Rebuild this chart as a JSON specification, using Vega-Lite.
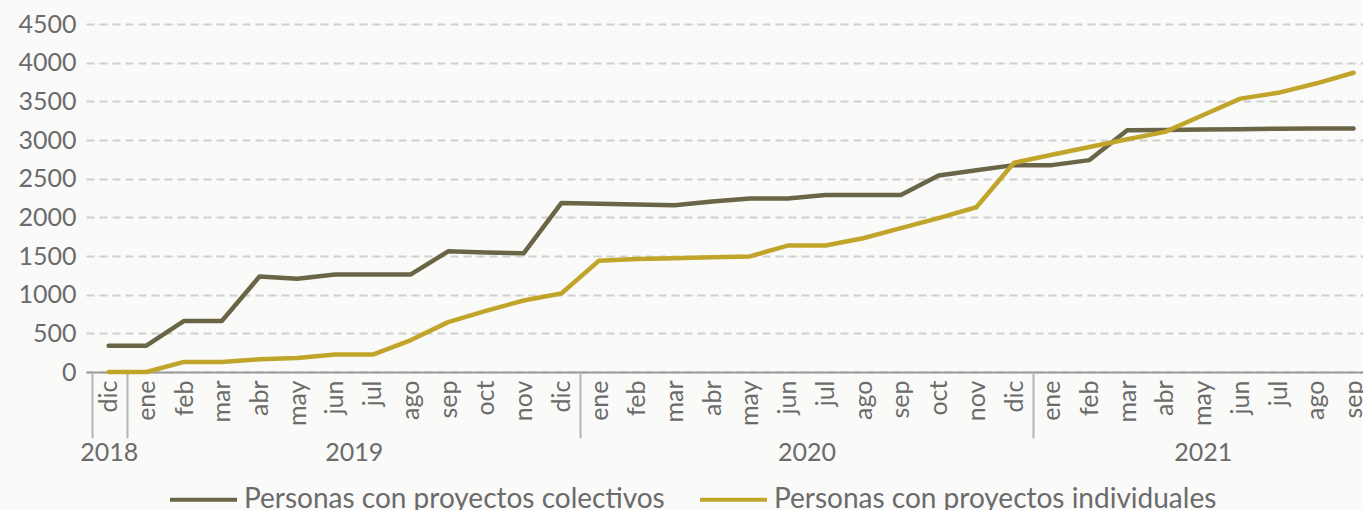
{
  "$schema": "https://vega.github.io/schema/vega-lite/v6.json",
  "width": 1277,
  "height": 348,
  "autosize": {"type": "none"},
  "padding": {"left": 86, "top": 24, "right": 0, "bottom": 138},
  "background": "#fafaf8",
  "config": {
    "view": {"stroke": null},
    "font": "Lato",
    "axis": {"labelFont": "Lato", "labelColor": "#6b6b6b"},
    "legend": {"labelFont": "Lato"}
  },
  "data": {
    "values": [
      {"i": 0, "serie": "Personas con proyectos colectivos", "valor": 340},
      {"i": 1, "serie": "Personas con proyectos colectivos", "valor": 340},
      {"i": 2, "serie": "Personas con proyectos colectivos", "valor": 660},
      {"i": 3, "serie": "Personas con proyectos colectivos", "valor": 660},
      {"i": 4, "serie": "Personas con proyectos colectivos", "valor": 1235},
      {"i": 5, "serie": "Personas con proyectos colectivos", "valor": 1205},
      {"i": 6, "serie": "Personas con proyectos colectivos", "valor": 1260},
      {"i": 7, "serie": "Personas con proyectos colectivos", "valor": 1260},
      {"i": 8, "serie": "Personas con proyectos colectivos", "valor": 1260},
      {"i": 9, "serie": "Personas con proyectos colectivos", "valor": 1560},
      {"i": 10, "serie": "Personas con proyectos colectivos", "valor": 1545},
      {"i": 11, "serie": "Personas con proyectos colectivos", "valor": 1535},
      {"i": 12, "serie": "Personas con proyectos colectivos", "valor": 2185},
      {"i": 13, "serie": "Personas con proyectos colectivos", "valor": 2175},
      {"i": 14, "serie": "Personas con proyectos colectivos", "valor": 2165},
      {"i": 15, "serie": "Personas con proyectos colectivos", "valor": 2155},
      {"i": 16, "serie": "Personas con proyectos colectivos", "valor": 2205},
      {"i": 17, "serie": "Personas con proyectos colectivos", "valor": 2245},
      {"i": 18, "serie": "Personas con proyectos colectivos", "valor": 2245},
      {"i": 19, "serie": "Personas con proyectos colectivos", "valor": 2290},
      {"i": 20, "serie": "Personas con proyectos colectivos", "valor": 2290},
      {"i": 21, "serie": "Personas con proyectos colectivos", "valor": 2290},
      {"i": 22, "serie": "Personas con proyectos colectivos", "valor": 2540},
      {"i": 23, "serie": "Personas con proyectos colectivos", "valor": 2610},
      {"i": 24, "serie": "Personas con proyectos colectivos", "valor": 2675},
      {"i": 25, "serie": "Personas con proyectos colectivos", "valor": 2675},
      {"i": 26, "serie": "Personas con proyectos colectivos", "valor": 2740},
      {"i": 27, "serie": "Personas con proyectos colectivos", "valor": 3125},
      {"i": 28, "serie": "Personas con proyectos colectivos", "valor": 3130},
      {"i": 29, "serie": "Personas con proyectos colectivos", "valor": 3135},
      {"i": 30, "serie": "Personas con proyectos colectivos", "valor": 3140},
      {"i": 31, "serie": "Personas con proyectos colectivos", "valor": 3145},
      {"i": 32, "serie": "Personas con proyectos colectivos", "valor": 3150},
      {"i": 33, "serie": "Personas con proyectos colectivos", "valor": 3150},
      {"i": 0, "serie": "Personas con proyectos individuales", "valor": 0},
      {"i": 1, "serie": "Personas con proyectos individuales", "valor": 0},
      {"i": 2, "serie": "Personas con proyectos individuales", "valor": 130},
      {"i": 3, "serie": "Personas con proyectos individuales", "valor": 130},
      {"i": 4, "serie": "Personas con proyectos individuales", "valor": 165},
      {"i": 5, "serie": "Personas con proyectos individuales", "valor": 180},
      {"i": 6, "serie": "Personas con proyectos individuales", "valor": 225},
      {"i": 7, "serie": "Personas con proyectos individuales", "valor": 225},
      {"i": 8, "serie": "Personas con proyectos individuales", "valor": 410},
      {"i": 9, "serie": "Personas con proyectos individuales", "valor": 645},
      {"i": 10, "serie": "Personas con proyectos individuales", "valor": 790},
      {"i": 11, "serie": "Personas con proyectos individuales", "valor": 925},
      {"i": 12, "serie": "Personas con proyectos individuales", "valor": 1015},
      {"i": 13, "serie": "Personas con proyectos individuales", "valor": 1440},
      {"i": 14, "serie": "Personas con proyectos individuales", "valor": 1460},
      {"i": 15, "serie": "Personas con proyectos individuales", "valor": 1470},
      {"i": 16, "serie": "Personas con proyectos individuales", "valor": 1485},
      {"i": 17, "serie": "Personas con proyectos individuales", "valor": 1495},
      {"i": 18, "serie": "Personas con proyectos individuales", "valor": 1635},
      {"i": 19, "serie": "Personas con proyectos individuales", "valor": 1635},
      {"i": 20, "serie": "Personas con proyectos individuales", "valor": 1730},
      {"i": 21, "serie": "Personas con proyectos individuales", "valor": 1860},
      {"i": 22, "serie": "Personas con proyectos individuales", "valor": 1990},
      {"i": 23, "serie": "Personas con proyectos individuales", "valor": 2130},
      {"i": 24, "serie": "Personas con proyectos individuales", "valor": 2705},
      {"i": 25, "serie": "Personas con proyectos individuales", "valor": 2810},
      {"i": 26, "serie": "Personas con proyectos individuales", "valor": 2910},
      {"i": 27, "serie": "Personas con proyectos individuales", "valor": 3010},
      {"i": 28, "serie": "Personas con proyectos individuales", "valor": 3105},
      {"i": 29, "serie": "Personas con proyectos individuales", "valor": 3320},
      {"i": 30, "serie": "Personas con proyectos individuales", "valor": 3535},
      {"i": 31, "serie": "Personas con proyectos individuales", "valor": 3610},
      {"i": 32, "serie": "Personas con proyectos individuales", "valor": 3730},
      {"i": 33, "serie": "Personas con proyectos individuales", "valor": 3870}
    ]
  },
  "encoding": {
    "y": {
      "field": "valor",
      "type": "quantitative",
      "scale": {"domain": [0, 4500], "nice": false, "zero": true},
      "axis": {
        "title": null,
        "values": [0, 500, 1000, 1500, 2000, 2500, 3000, 3500, 4000, 4500],
        "format": "d",
        "domain": false,
        "ticks": false,
        "labelFontSize": 25,
        "labelPadding": 10,
        "grid": true,
        "gridColor": "#cfcfcf",
        "gridWidth": 2,
        "gridDash": [8, 5]
      }
    },
    "color": {
      "field": "serie",
      "type": "nominal",
      "scale": {
        "domain": ["Personas con proyectos colectivos", "Personas con proyectos individuales"],
        "range": ["#6b6547", "#c1a52b"]
      },
      "legend": {
        "title": null,
        "orient": "none",
        "legendX": 82,
        "legendY": 440,
        "direction": "horizontal",
        "symbolType": "stroke",
        "symbolSize": 4489,
        "symbolStrokeWidth": 4,
        "labelFontSize": 28,
        "labelColor": "#6b6b6b",
        "labelLimit": 0,
        "labelOffset": 5,
        "columnPadding": 27
      }
    }
  },
  "layer": [
    {
      "transform": [{"filter": "datum.serie == 'Personas con proyectos colectivos'"}],
      "mark": {"type": "line", "strokeWidth": 4.5, "strokeCap": "round", "strokeJoin": "round"},
      "encoding": {
        "x": {
          "field": "i",
          "type": "quantitative",
          "scale": {"domain": [-0.6, 33.25], "nice": false, "zero": false},
          "axis": {
            "title": null,
            "orient": "bottom",
            "values": [0,1,2,3,4,5,6,7,8,9,10,11,12,13,14,15,16,17,18,19,20,21,22,23,24,25,26,27,28,29,30,31,32,33],
            "labelExpr": "['ene','feb','mar','abr','may','jun','jul','ago','sep','oct','nov','dic'][(datum.value + 11) % 12]",
            "labelAngle": -90,
            "labelFontSize": 25,
            "labelPadding": 8,
            "labelDy": 4,
            "labelOverlap": false,
            "labelFlush": false,
            "labelBound": false,
            "ticks": false,
            "grid": false,
            "domain": true,
            "domainColor": "#9a9a9a",
            "domainWidth": 2
          }
        }
      }
    },
    {
      "transform": [{"filter": "datum.serie == 'Personas con proyectos individuales'"}],
      "mark": {"type": "line", "strokeWidth": 4.5, "strokeCap": "round", "strokeJoin": "round"},
      "encoding": {
        "x": {
          "field": "i",
          "type": "quantitative",
          "scale": {"domain": [-0.6, 33.25], "nice": false, "zero": false},
          "axis": {
            "title": null,
            "orient": "bottom",
            "offset": 0,
            "values": [-0.45, 0, 0.5, 6.5, 12.5, 18.5, 24.5, 29],
            "labelExpr": "datum.value == 0 ? '2018' : datum.value == 6.5 ? '2019' : datum.value == 18.5 ? '2020' : datum.value == 29 ? '2021' : ''",
            "labelAngle": 0,
            "labelFontSize": 25,
            "labelPadding": 2,
            "labelBaseline": "top",
            "labelOverlap": false,
            "labelFlush": false,
            "labelBound": false,
            "ticks": true,
            "tickSize": 66,
            "tickWidth": 2,
            "tickColor": "#b5b5b5",
            "tickOpacity": {"condition": {"test": "indexof([-0.45, 0.5, 12.5, 24.5], datum.value) >= 0", "value": 1}, "value": 0},
            "grid": false,
            "domain": false
          }
        }
      }
    }
  ],
  "resolve": {"axis": {"x": "independent"}}
}
